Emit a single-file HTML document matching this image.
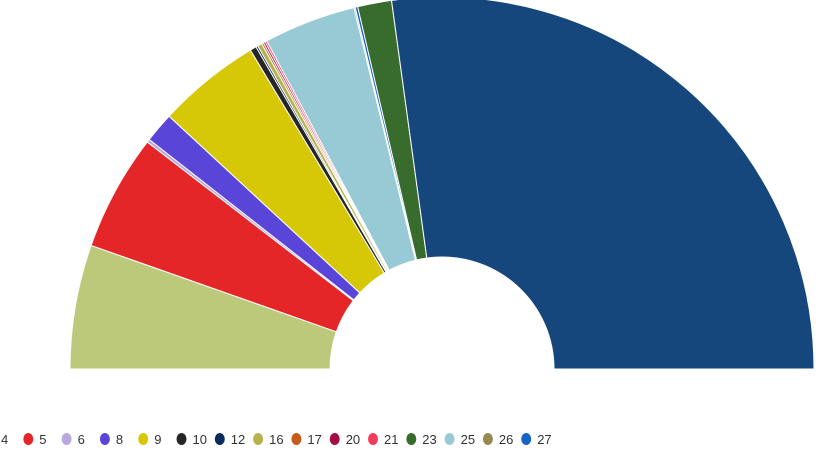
<!DOCTYPE html>
<html><head><meta charset="utf-8"><style>
html,body{margin:0;padding:0;background:#fff;width:825px;height:464px;overflow:hidden;font-family:"Liberation Sans",sans-serif;}
</style></head><body>
<svg id="chart" width="825" height="464" xmlns="http://www.w3.org/2000/svg">
<g id="slices"></g>
<g id="legend"></g>
</svg>
<script>
const sliceLabels = ["4","5","6","8","9","10","12","16","17","20","21","25","26","27","23","1"];
const sliceValues = [19.4,18.2,0.5,4.7,16.2,1.0,0.3,0.7,0.3,0.3,0.3,14.4,0.2,0.4,5.3,97.8];
const sliceColors = ["#bcc97a","#e52629","#b9a8e0","#5a45d9","#d6c807","#262626","#0d2a5c","#b5b34a","#c85a1d","#a20d45","#f23c5a","#97cad4","#948a52","#1565c8","#386c2c","#16477c"];
const legendLabels = ["4","5","6","8","9","10","12","16","17","20","21","23","25","26","27"];
const legendColors = [null,"#e52629","#b9a8e0","#5a45d9","#d6c807","#262626","#0d2a5c","#b5b34a","#c85a1d","#a20d45","#f23c5a","#386c2c","#97cad4","#948a52","#1565c8"];

const NS="http://www.w3.org/2000/svg";
const cx=442, cy=369, R=372, r=112;
const total=sliceValues.reduce((a,b)=>a+b,0);
function angleOf(v){return Math.PI - (v/total)*Math.PI;}
function pt(rad,a){return [cx+rad*Math.cos(a), cy-rad*Math.sin(a)];}
const g=document.getElementById('slices');
let acc=0;
sliceValues.forEach((v,i)=>{
  const a0=angleOf(acc), a1=angleOf(acc+v); acc+=v;
  const [x0,y0]=pt(R,a0),[x1,y1]=pt(R,a1),[x2,y2]=pt(r,a1),[x3,y3]=pt(r,a0);
  const large=(a0-a1)>Math.PI?1:0;
  const p=document.createElementNS(NS,'path');
  p.setAttribute('d',`M${x0},${y0} A${R},${R} 0 ${large} 1 ${x1},${y1} L${x2},${y2} A${r},${r} 0 ${large} 0 ${x3},${y3} Z`);
  p.setAttribute('fill',sliceColors[i]);
  p.setAttribute('stroke','#fff');
  p.setAttribute('stroke-width','1');
  
  
  g.appendChild(p);
});
const lg=document.getElementById('legend');
const x0=-10, step=38.3, ly=439;
legendLabels.forEach((l,i)=>{
  const it=document.createElementNS(NS,'g');
  
  
  const bx=x0+i*step;
  if(legendColors[i]){
    const c=document.createElementNS(NS,'ellipse');
    c.setAttribute('cx',bx);c.setAttribute('cy',ly);c.setAttribute('rx',5);c.setAttribute('ry',6);
    c.setAttribute('fill',legendColors[i]);
    it.appendChild(c);
  }
  const t=document.createElementNS(NS,'text');
  t.setAttribute('x',bx+11);t.setAttribute('y',ly+5);
  t.setAttribute('font-size','13');t.setAttribute('fill','#333');
  t.textContent=l;
  it.appendChild(t);
  lg.appendChild(it);
});
</script>
</body></html>
